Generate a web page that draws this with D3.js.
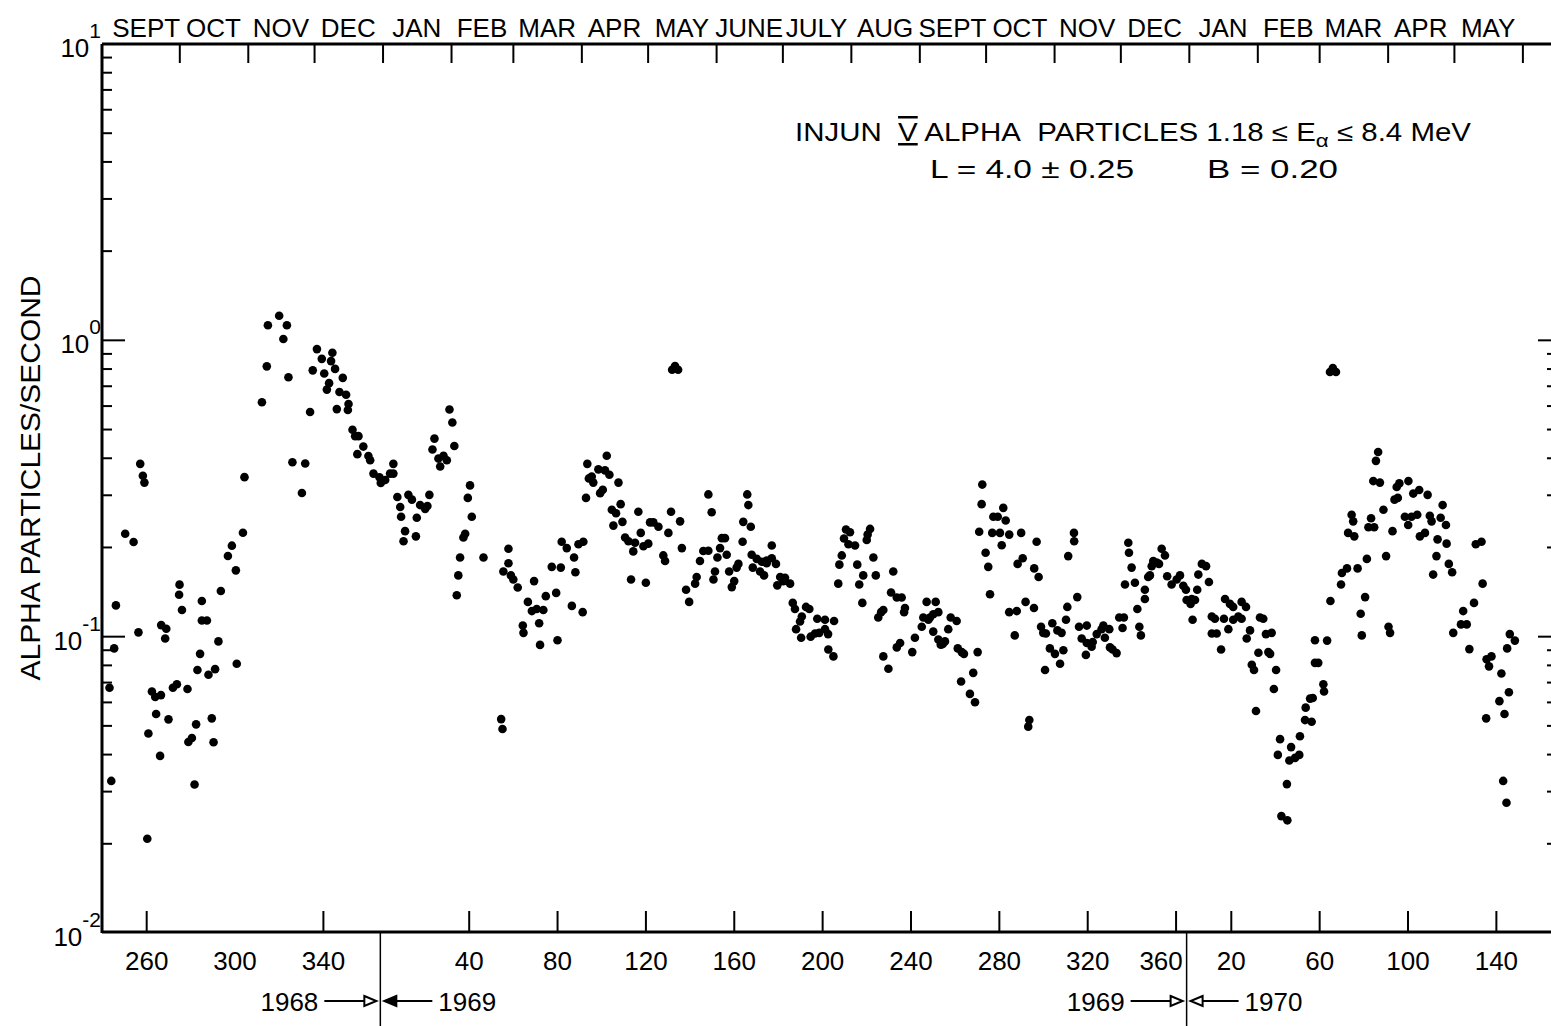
<!DOCTYPE html>
<meta charset="utf-8">
<body style="margin:0;background:#fff">

<script src="https://d3js.org/d3.v7.min.js"></script>

<div id="chart"></div>

<script>
// day = days counted from 31 Dec 1967 (1 Jan 1968 = 1, 1 Jan 1969 = 367, 1 Jan 1970 = 732)
var day = [246.3,245.5,243.4,244.2,250.5,254.3,256.5,257.3,258.5,259.2,260.5,261,262.6,264.1,266.7,264.5,266.3,266.8,269.1,268.6,
  270.1,272.1,273.9,275.1,274.9,276.2,278.7,279.1,280.7,281.9,282.6,283.2,284.4,285.2,285.2,287.5,288.2,291.2,289.7,290.5,
  292.7,293.8,297,298.8,300.6,301,303.8,304.5,312.4,314.6,315.1,320.2,323.7,322.1,324.4,326.2,332,330.5,334.2,335.4,
  337.3,339.5,340.6,344.3,343.7,345.5,342.8,341.8,349,347.5,350.5,346.3,351.3,351.6,353.4,354.6,356.1,358.3,355.6,360.6,
  361.4,362.9,365.6,366.2,368.2,370.4,371.9,371.9,373.7,375,375.4,378.7,380.3,384,386.3,387.3,382.5,388.2,377.2,376.5,
  382.1,390.5,389.6,392.3,394.6,396.1,393.1,397.3,398.6,399.5,406.6,405.6,407.4,404.4,403.6,402.1,412.7,401.3,400.6,420.7,
  421.3,424,424,421.7,425.1,426.2,428.2,435.6,432.8,434.6,436.8,439.8,440.9,430.5,430.8,437.9,438.3,446.2,443.6,447.7,
  445.6,448.1,450.4,455.7,457.9,453.7,454.3,452.7,457.6,459.7,460.4,459.1,498.1,500.8,499.4,468.5,464.7,467.7,469.7,461.7,
  462.4,473.8,466.7,465.5,474.8,470.8,472.7,482.8,475.6,471.5,497.6,501.7,488.1,489.6,491.9,496.4,483.9,476.8,478.3,481.3,
  485.1,487.3,480.5,494.1,494.9,502.5,479.5,486.2,514.5,516,520.6,522,519.8,512.2,514.5,510.7,518.6,522.8,528.1,527.3,
  523.9,517.5,516.8,509.2,508.5,504.4,505.8,526.2,525.1,532.1,532.6,530.3,533.7,530,534.1,536.4,538.7,540.9,543.2,545.1,
  540.9,543.2,534.6,537.9,539.7,547,549.2,551.5,545.7,548.4,552.7,553.7,558.7,560.2,556.8,556,554.2,556.5,560.8,562.8,
  564.7,567.3,563.8,567.3,568.8,571.4,568.7,571.1,576.8,578.6,575.9,577.9,580.9,587.7,586.6,586.2,574.9,573.8,573.3,581.9,
  584.6,582.8,589.2,590.3,584.2,598.2,597.2,599.8,602,593.7,591.4,592.7,603.5,603.1,593.7,596,599.8,601.3,608,606.8,
  613.3,617.4,611.8,614.1,616.3,618.6,614.8,611.1,616.3,618.6,620.6,621.6,619.7,624.2,626.9,623.1,627.4,629.2,630.2,636.4,
  634.4,628.9,632.9,635.2,638.5,638.2,637.1,643.5,645.5,648,649.1,643,646.5,650.7,656.1,647.3,640,641.2,642,663.1,
  654.5,656.8,662,664,677.4,658.1,661.9,650.7,654.1,653.2,665.1,667.3,666.1,670.2,672.5,674.4,677,676.4,669.1,671.4,
  675.2,673.7,666.9,659.8,659.3,680,680.1,681.5,682.3,685.8,683.5,685.8,688.5,690.3,692.5,693.3,696,694,688,685.4,
  696.3,697.5,699.3,700.5,702.6,702,704.6,704.9,706.1,703.1,707.6,708.7,709.6,710.3,712.1,712.1,713.6,714.4,715.2,715.9,
  717.4,718.5,719.7,721.2,722.2,724.2,726.5,728,729.5,730.7,733.7,731,732.8,733.3,734.8,735.8,736.3,737.9,739.8,741.1,
  742.4,743.8,747.9,742.4,744.6,746.6,748.4,750.6,752.1,749.9,752.1,754.4,755.9,755.9,757.9,759.7,758.2,764.2,765.7,766.9,
  769.5,763.5,768,768.8,760.5,761.5,771.5,770.5,762.4,773.3,772.3,778.3,777.5,780.1,782,776.4,773.9,776.6,782.3,784.6,
  784.9,786.9,795.9,798.6,797.2,817.7,816.7,815.5,818.5,805.7,806.4,804.1,806.9,814.5,813.3,815.9,820.1,824.2,821.3,812.6,
  808.4,803.6,801.3,800.9,796.1,811.8,809.8,810.3,822.4,823.1,827.3,826.1,831.4,826.6,825.1,833.6,836.3,840.1,829.8,832.8,
  835.4,831.3,836.6,838.9,841.1,841.9,846.9,846,848.4,844.6,848.7,844.1,842.6,849.7,851.2,861.9,864.5,865,861.1,856.2,
  855.2,857.8,851.7,859,789.1,794.6,789.1,790.6,792.9,793.2,788.1,787.6,877.3,879.6,876.1,866.8,869,867.9,873.5,876.9,
  872.6,874.9,866.6,874.3,875.8];

var rate = [.1275,.0913,.0672,.0326,.2225,.2086,.1034,.383,.349,.331,.0208,.0471,.0653,.0626,.0635,.0548,.0396,.1094,.1063,.0986,
  .0526,.0672,.0691,.1498,.1385,.123,.0666,.0441,.0455,.0317,.0506,.0772,.0875,.132,.1134,.1134,.0744,.0777,.053,.044,
  .0964,.1426,.1871,.2028,.1674,.081,.2243,.3454,.618,.817,1.125,1.21,1.125,1.01,.751,.388,.384,.3055,.573,.792,
  .934,.866,.773,.908,.851,.801,.717,.682,.747,.669,.655,.586,.582,.61,.499,.475,.475,.438,.413,.407,
  .394,.355,.345,.330,.338,.355,.383,.355,.296,.274,.254,.301,.290,.278,.270,.276,.252,.301,.227,.210,
  .218,.466,.428,.399,.408,.394,.375,.584,.528,.440,.324,.294,.254,.2225,.216,.185,.185,.161,.138,.0527,
  .0488,.198,.177,.166,.161,.156,.1465,.154,.131,.122,.124,.123,.137,.109,.103,.111,.0938,.0972,.172,.171,
  .1405,.209,.199,.205,.209,.185,.165,.127,.121,.383,.342,.294,.796,.796,.819,.408,.367,.364,.352,.347,
  .331,.331,.313,.305,.280,.268,.261,.264,.244,.237,.264,.245,.243,.243,.235,.224,.224,.216,.210,.2075,
  .202,.206,.194,.188,.180,.199,.156,.152,.302,.263,.215,.215,.199,.1945,.195,.180,.185,.189,.176,.171,
  .166,.166,.156,.159,.151,.144,.131,.154,.147,.302,.278,.244,.235,.209,.189,.183,.179,.1805,.184,.176,
  .177,.203,.171,.166,.161,.159,.158,.151,.149,.154,.130,.124,.126,.124,.117,.1125,.106,.0992,.100,.1025,
  .103,.106,.115,.114,.0905,.113,.102,.0858,.230,.225,.2145,.205,.203,.231,.221,.212,.188,.175,.151,.175,
  .161,.150,.185,.161,.130,.166,.141,.1355,.1355,.123,.116,.121,.125,.121,.0858,.0779,.092,.0952,.0992,.0887,
  .131,.131,.116,.114,.119,.121,.116,.108,.104,.0978,.0944,.0964,.094,.116,.113,.106,.0913,.0887,.0875,.0887,
  .0755,.0706,.0641,.0601,.326,.280,.226,.254,.254,.272,.2465,.224,.224,.221,.224,.2035,.192,.172,.139,.209,
  .176,.184,.170,.159,.187,.131,.125,.121,.122,.101,.108,.1025,.103,.111,.105,.103,.126,.114,.0913,.0875,
  .090,.081,.0772,.0523,.0497,.224,.210,.136,.108,.109,.0986,.0952,.0959,.102,.106,.109,.106,.0992,.0925,.0868,
  .092,.0905,.088,.116,.116,.107,.2075,.192,.171,.150,.152,.124,.108,.101,.144,.134,.159,.161,.173,.180,
  .178,.176,.198,.188,.160,.150,.156,.161,.1485,.144,.114,.133,.129,.134,.133,.144,.162,.176,.173,.153,
  .117,.115,.115,.1025,.1025,.0905,.134,.129,.126,.106,.114,.117,.115,.131,.126,.105,.0986,.116,.115,.102,
  .103,.0883,.0887,.0875,.0804,.0772,.0772,.0666,.0561,.0451,.0399,.0424,.0382,.039,.0399,.0318,.0248,.024,.0461,.0523,
  .0576,.0618,.782,.782,.806,.420,.392,.335,.331,.258,.245,.224,.218,.251,.234,.234,.268,.227,.187,.183,
  .170,.170,.164,.150,.132,.136,.1195,.101,.108,.103,.329,.320,.335,.294,.290,.304,.3125,.301,.254,.254,
  .258,.238,.218,.224,.256,.245,.278,.252,.238,.213,.206,.187,.162,.176,.165,.205,.209,.151,.130,.122,
  .110,.110,.103,.0908,.0972,.097,.0816,.0816,.0691,.0653,.0621,.0516,.102,.097,.0913,.0839,.0858,.0794,.0751,.0649,
  .0606,.0548,.053,.0326,.0275];

// top axis: month names, one for each month from Sept 1968 to May 1970
var monthNames = ["SEPT","OCT","NOV","DEC","JAN","FEB","MAR","APR","MAY","JUNE","JULY","AUG",
  "SEPT","OCT","NOV","DEC","JAN","FEB","MAR","APR","MAY"];

// bottom axis: day-of-year labels and the day count they sit at
var bottomTickDays = [260,300,340,406,446,486,526,566,606,646,686,726,751,791,831,871];
var bottomTickLabels = ["260","300","340","40","80","120","160","200","240","280","320","360","20","60","100","140"];

// year changes (day count at end of 1968 and 1969)
var yearEnds = [366, 731];
var yearNames = [["1968","1969"], ["1969","1970"]];

var W = 1551, H = 1026;
var plotL = 102, plotR = 1550, plotT = 44, plotB = 933;

var svg = d3.select("#chart")
  .append("svg")
    .attr("width", W)
    .attr("height", H)
    .style("font-family", "'Liberation Sans', Arial, sans-serif")
    .style("fill", "#000");

var x = d3.scaleLinear().domain([240, 895.5]).range([plotL, plotR]);
var y = d3.scaleLog().domain([0.01, 10]).range([plotB, plotT]);

// frame lines
svg.append("line").attr("x1", plotL).attr("x2", W).attr("y1", plotT).attr("y2", plotT)
  .attr("stroke", "#000").attr("stroke-width", 3);
svg.append("line").attr("x1", plotL).attr("x2", W).attr("y1", plotB - 1).attr("y2", plotB - 1)
  .attr("stroke", "#000").attr("stroke-width", 3);
svg.append("line").attr("x1", plotL).attr("x2", plotL).attr("y1", plotT).attr("y2", plotB)
  .attr("stroke", "#000").attr("stroke-width", 3);

// month ticks along the top
var origin = new Date(1967, 11, 31);
var monthStarts = d3.timeMonth.range(new Date(1968, 8, 1), new Date(1970, 6, 1))
  .map(function(d) { return d3.timeDay.count(origin, d); });

var topAxis = svg.append("g")
  .attr("transform", "translate(0," + plotT + ")")
  .call(d3.axisBottom(x).tickValues(monthStarts.slice(1)).tickSize(19).tickFormat(""));
topAxis.select(".domain").remove();
topAxis.selectAll("line").attr("stroke-width", 2);

svg.append("g").selectAll("text")
  .data(monthNames)
  .enter()
  .append("text")
    .attr("x", function(d, i) { return x((monthStarts[i] + monthStarts[i + 1]) / 2); })
    .attr("y", 37)
    .attr("text-anchor", "middle")
    .style("font-size", "26px")
    .text(function(d) { return d; });

// day-of-year ticks along the bottom
var botAxis = svg.append("g")
  .attr("transform", "translate(0," + (plotB - 1) + ")")
  .call(d3.axisBottom(x)
    .tickValues(bottomTickDays)
    .tickSizeInner(-21)
    .tickSizeOuter(0)
    .tickPadding(20)
    .tickFormat(function(d, i) { return bottomTickLabels[i]; }));
botAxis.select(".domain").remove();
botAxis.selectAll("line").attr("stroke-width", 2);
botAxis.selectAll(".tick").filter(function(d) { return d === 300; }).select("line").remove();
botAxis.selectAll(".tick").filter(function(d) { return d === 726; }).select("text").attr("dx", -15);
botAxis.selectAll("text").style("font-size", "26px").style("font-family", "'Liberation Sans', Arial, sans-serif");

// year change lines and arrows
yearEnds.forEach(function(t, k) {
  var xb = x(t);
  svg.append("line").attr("x1", xb).attr("x2", xb).attr("y1", plotB).attr("y2", H)
    .attr("stroke", "#000").attr("stroke-width", 1.5);
  var ay = 1001;
  svg.append("text").attr("x", xb - 62).attr("y", ay + 10).attr("text-anchor", "end")
    .style("font-size", "26px").text(yearNames[k][0]);
  svg.append("text").attr("x", xb + 58).attr("y", ay + 10).attr("text-anchor", "start")
    .style("font-size", "26px").text(yearNames[k][1]);
  svg.append("line").attr("x1", xb - 56).attr("x2", xb - 14).attr("y1", ay).attr("y2", ay)
    .attr("stroke", "#000").attr("stroke-width", 2);
  svg.append("line").attr("x1", xb + 12).attr("x2", xb + 52).attr("y1", ay).attr("y2", ay)
    .attr("stroke", "#000").attr("stroke-width", 2);
  svg.append("path")
    .attr("d", "M" + (xb - 16) + "," + (ay - 5) + "L" + (xb - 4) + "," + ay + "L" + (xb - 16) + "," + (ay + 5) + "Z")
    .attr("fill", "#fff").attr("stroke", "#000").attr("stroke-width", 2);
  svg.append("path")
    .attr("d", "M" + (xb + 16) + "," + (ay - 5) + "L" + (xb + 4) + "," + ay + "L" + (xb + 16) + "," + (ay + 5) + "Z")
    .attr("fill", k === 0 ? "#000" : "#fff").attr("stroke", "#000").attr("stroke-width", 2);
});

// log ticks on left (and right edge)
var minorTicks = [], majorTicks = [0.1, 1];
[0.01, 0.1, 1].forEach(function(p) {
  for (var k = 2; k <= 9; k++) minorTicks.push(p * k);
});

svg.append("g").selectAll("line")
  .data(majorTicks.concat(minorTicks))
  .enter()
  .append("line")
    .attr("x1", plotL)
    .attr("x2", function(d) { return plotL + (majorTicks.indexOf(d) >= 0 ? 23 : 10); })
    .attr("y1", function(d) { return y(d); })
    .attr("y2", function(d) { return y(d); })
    .attr("stroke", "#000").attr("stroke-width", 2);

svg.append("g").selectAll("line")
  .data(majorTicks.concat(minorTicks.filter(function(d) { return d < 1; })))
  .enter()
  .append("line")
    .attr("x1", W)
    .attr("x2", function(d) { return W - (majorTicks.indexOf(d) >= 0 ? 13 : 4); })
    .attr("y1", function(d) { return y(d); })
    .attr("y2", function(d) { return y(d); })
    .attr("stroke", "#000").attr("stroke-width", 2);

// decade labels
var decades = [10, 1, 0.1, 0.01];
var expo = ["1", "0", "-1", "-2"];
decades.forEach(function(d, i) {
  var t = svg.append("text")
    .attr("x", 101)
    .attr("y", y(d) + 13)
    .attr("text-anchor", "end")
    .style("font-size", "26px");
  t.append("tspan").text("10");
  t.append("tspan").attr("dy", -19).style("font-size", "21px").text(expo[i]);
});

// y axis title
svg.append("text")
  .attr("transform", "translate(40,478) rotate(-90)")
  .attr("text-anchor", "middle")
  .attr("textLength", 405)
  .attr("lengthAdjust", "spacingAndGlyphs")
  .style("font-size", "27px")
  .text("ALPHA PARTICLES/SECOND");

// caption
var cap = svg.append("text")
  .attr("x", 795)
  .attr("y", 141)
  .attr("textLength", 676)
  .attr("lengthAdjust", "spacingAndGlyphs")
  .style("font-size", "25px");
cap.append("tspan").text("INJUN\u00a0\u00a0");
cap.append("tspan").style("text-decoration", "overline underline").text("V");
cap.append("tspan").text(" ALPHA\u00a0\u00a0PARTICLES 1.18 \u2264 E");
cap.append("tspan").attr("dy", 6).style("font-size", "19px").text("\u03b1");
cap.append("tspan").attr("dy", -6).text(" \u2264 8.4 MeV");

svg.append("text").attr("x", 930).attr("y", 178).style("font-size", "26px")
  .attr("textLength", 204).attr("lengthAdjust", "spacingAndGlyphs")
  .text("L = 4.0 \u00b1 0.25");
svg.append("text").attr("x", 1207).attr("y", 178).style("font-size", "26px")
  .attr("textLength", 131).attr("lengthAdjust", "spacingAndGlyphs")
  .text("B = 0.20");

// data points
svg.append("g").selectAll("circle")
  .data(day)
  .enter()
  .append("circle")
    .attr("cx", function(d) { return x(d); })
    .attr("cy", function(d, i) { return y(rate[i]); })
    .attr("r", 4.3)
    .attr("fill", "#000");
</script>

</body>
